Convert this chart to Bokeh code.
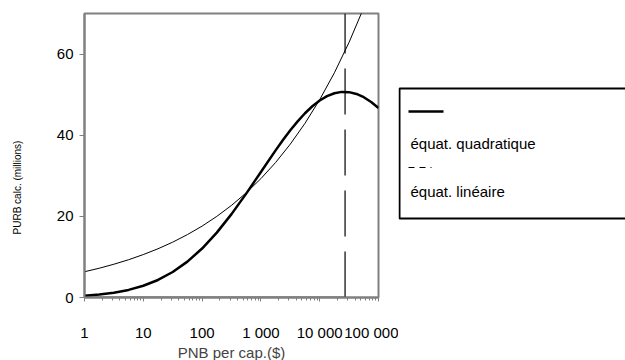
from bokeh.plotting import figure
from bokeh.layouts import row
from bokeh.models import FixedTicker, Range1d
from bokeh.embed import file_html
from bokeh.resources import INLINE
from bokeh.core.properties import value
import math

# ---- data ----
pnb_lin = [1, 1.778, 3.162, 5.623, 10, 17.78, 31.62, 56.23, 100, 177.8, 316.2, 562.3,
           1000, 1778, 3162, 5623, 10000, 17783, 31623, 56234, 100000]
purb_lin = [6.35, 7.21, 8.20, 9.31, 10.58, 12.01, 13.64, 15.50, 17.60, 19.99, 22.71,
            25.79, 29.30, 33.27, 37.80, 42.93, 48.76, 55.39, 62.91, 71.46, 81.2]
pnb_quad = [1, 1.778, 3.162, 5.623, 10, 17.78, 31.62, 56.23, 100, 177.8, 316.2, 562.3,
            1000, 1778, 2371, 3162, 4217, 5623, 7499, 10000, 13335, 17783, 23714,
            31623, 42170, 56234, 74989, 100000]
purb_quad = [0.42, 0.72, 1.17, 1.87, 2.89, 4.32, 6.28, 8.84, 12.07, 15.99, 20.55,
             25.60, 30.94, 36.26, 38.80, 41.21, 43.42, 45.42, 47.14, 48.56, 49.63,
             50.34, 50.68, 50.62, 50.18, 49.37, 48.20, 46.69]
seuil_x = [27000, 27000]
seuil_y = [0, 70]
base_x = [1, 27000]
base_y = [0, 0]

x_ticks = [1, 10, 100, 1000, 10000, 100000]
x_labels = ["1", "10", "100", "1 000", "10 000", "100 000"]
y_ticks = [0, 20, 40, 60]
y_title = "PURB calc. (millions)"
x_title = "PNB per cap.($)"
legend_labels = ["équat. quadratique", "équat. linéaire"]

FONT = "Liberation Sans"
GRAY = "#808080"
TOP, FRAME_H, BOTTOM = 13, 284, 63

minor = [m * d for d in [1, 10, 100, 1000, 10000] for m in range(2, 10)]

# ---- y title panel (aligned on the plot frame; y in page pixels) ----
yl = figure(width=30, height=360, x_range=Range1d(0, 30),
            y_range=Range1d(TOP + FRAME_H, TOP),
            output_backend="svg", toolbar_location=None,
            x_axis_location=None, y_axis_location=None,
            min_border_left=0, min_border_right=0,
            min_border_top=TOP, min_border_bottom=BOTTOM)
yl.frame_width = 30
yl.frame_height = FRAME_H
yl.grid.visible = False
yl.outline_line_color = None
yl.text(x=[17], y=[187], text=[y_title], angle=math.pi / 2,
        text_align="center", text_baseline="middle",
        text_font=value(FONT), text_font_size="10px",
        text_color="black")

# ---- main plot ----
p = figure(width=368, height=360, x_axis_type="log",
           x_range=Range1d(1, 100000), y_range=Range1d(0, 70),
           output_backend="svg", toolbar_location=None,
           min_border_left=54, min_border_right=20, min_border_top=TOP,
           min_border_bottom=BOTTOM)
p.frame_width = 294
p.frame_height = FRAME_H
p.grid.visible = False
p.outline_line_color = GRAY
p.outline_line_width = 2

p.xaxis.ticker = FixedTicker(ticks=x_ticks, minor_ticks=minor)
p.xaxis.major_label_overrides = {t: l for t, l in zip(x_ticks, x_labels)}
p.yaxis.ticker = FixedTicker(ticks=y_ticks, minor_ticks=[])
for ax in (p.xaxis, p.yaxis):
    ax.axis_line_color = GRAY
    ax.axis_line_width = 2
    ax.major_tick_line_color = GRAY
    ax.minor_tick_line_color = GRAY
    ax.major_tick_in = 0
    ax.minor_tick_in = 0
    ax.major_label_text_font = FONT
    ax.major_label_text_font_size = "15px"
    ax.major_label_text_color = "black"
    ax.axis_label_text_font = FONT
    ax.axis_label_text_font_style = "normal"
p.xaxis.major_tick_out = 4
p.xaxis.minor_tick_out = 3
p.xaxis.major_label_standoff = 22
p.xaxis.axis_label = x_title
p.xaxis.axis_label_text_font_size = "15px"
p.xaxis.axis_label_standoff = 0
p.yaxis.major_tick_out = 5
p.yaxis.major_label_standoff = 6

p.line(pnb_lin, purb_lin, line_color="black", line_width=1)
p.line(pnb_quad, purb_quad, line_color="black", line_width=2.5)
p.line(seuil_x, seuil_y, line_color="black", line_width=1.2, line_dash="46 15")
p.line(base_x, base_y, line_color="black", line_width=1.5)

# ---- legend panel (aligned on the plot frame; coordinates in page pixels) ----
lg = figure(width=227, height=360, x_range=Range1d(398, 625),
            y_range=Range1d(TOP + FRAME_H, TOP),
            output_backend="svg", toolbar_location=None,
            x_axis_location=None, y_axis_location=None,
            min_border_left=0, min_border_right=0,
            min_border_top=TOP, min_border_bottom=BOTTOM)
lg.frame_width = 227
lg.frame_height = FRAME_H
lg.grid.visible = False
lg.outline_line_color = None
lg.quad(left=[399], right=[640], bottom=[218], top=[88], fill_color="white",
        line_color="black", line_width=2)
lg.line([408, 443], [111, 111], line_color="black", line_width=2.5)
lg.line([408, 443], [167, 167], line_color="black", line_width=1,
        line_dash="6 5 6 5 1 30")
lg.text(x=[410, 410], y=[143, 191], text=legend_labels, text_font=value(FONT),
        text_font_size="15px", text_baseline="middle", text_color="black")

layout = row(yl, p, lg)
open("out.html", "w").write(file_html(layout, INLINE))
